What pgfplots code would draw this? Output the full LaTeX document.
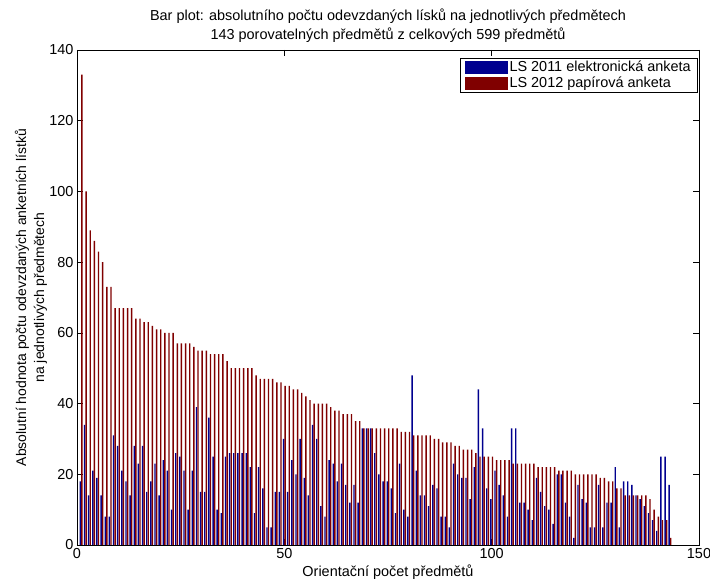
\documentclass[border=0pt]{standalone}
\usepackage{fontspec}
\setmainfont{Liberation Sans}
\usepackage{pgfplots}
\usepackage{pgfplotstable}
\pgfplotsset{compat=1.18}
\definecolor{mblue}{RGB}{0,0,143}
\definecolor{mred}{RGB}{128,0,0}

% g = predmet, b = LS 2011 (elektronicka), r = LS 2012 (papirova)
\pgfplotstableread{
g b r
1 18 133
2 34 100
3 14 89
4 21 86
5 19 83
6 14 80
7 8 73
8 8 73
9 31 67
10 28 67
11 21 67
12 18 67
13 14 67
14 28 64
15 23 64
16 28 63
17 15 63
18 18 62
19 23 61
20 14 61
21 24 60
22 21 60
23 10 60
24 26 57
25 25 57
26 21 57
27 10 57
28 21 56
29 39 55
30 15 55
31 15 55
32 36 54
33 25 54
34 10 54
35 9 54
36 25 52
37 26 50
38 26 50
39 26 50
40 26 50
41 26 50
42 22 50
43 9 48
44 22 47
45 16 47
46 5 47
47 5 47
48 15 46
49 15 46
50 30 45
51 15 45
52 24 44
53 20 44
54 30 43
55 19 42
56 14 41
57 34 40
58 30 40
59 11 40
60 8 40
61 24 39
62 23 38
63 18 38
64 23 37
65 17 37
66 12 37
67 17 35
68 12 35
69 33 33
70 33 33
71 33 33
72 26 33
73 20 33
74 18 33
75 18 33
76 16 33
77 9 33
78 23 32
79 10 32
80 8 32
81 48 31
82 21 31
83 14 31
84 14 31
85 11 31
86 17 30
87 16 30
88 8 29
89 8 29
90 5 29
91 23 28
92 20 28
93 19 27
94 19 27
95 13 27
96 22 26
97 44 25
98 33 25
99 16 25
100 13 25
101 21 24
102 17 24
103 14 24
104 8 24
105 33 23
106 33 23
107 12 23
108 12 23
109 10 23
110 7 23
111 19 22
112 15 22
113 11 22
114 10 22
115 6 22
116 20 21
117 20 21
118 12 21
119 8 21
120 2 20
121 17 20
122 13 20
123 12 20
124 5 20
125 5 20
126 17 19
127 5 19
128 12 18
129 12 18
130 22 16
131 5 16
132 18 14
133 18 14
134 17 14
135 14 14
136 13 14
137 11 14
138 9 13
139 7 10
140 4 8
141 25 7
142 25 7
143 17 2
}\data

\begin{document}
\begin{tikzpicture}
\useasboundingbox (-77bp,-35bp) rectangle (633bp,545bp);
\begin{axis}[
  at={(0,0)}, anchor=south west,
  width=622bp, height=495bp, scale only axis,
  xmin=0, xmax=150, ymin=0, ymax=140,
  xtick={0,50,100,150}, ytick={0,20,...,140},
  tick align=inside, major tick length=6bp,
  axis line style={line width=0.5bp},
  every tick/.style={black, line width=0.5bp},
  /pgf/number format/assume math mode=true,
  tick label style={font=\fontsize{14.5}{17}\selectfont},
  title={Bar plot: absolutního počtu odevzdaných lísků na jednotlivých předmětech\\143 porovatelných předmětů z celkových 599 předmětů},
  title style={at={(axis description cs:0.5,1)}, anchor=south, yshift=1bp,
    inner sep=0pt, align=center, font=\fontsize{14.5}{19}\selectfont},
  xlabel={Orientační počet předmětů},
  x label style={at={(axis description cs:0.5,0)}, anchor=north, yshift=-20bp,
    inner sep=0pt, font=\fontsize{14.5}{17}\selectfont},
  ylabel={Absolutní hodnota počtu odevzdaných anketních lístků\\na jednotlivých předmětech},
  y label style={at={(axis description cs:-0.074,0.5)}, anchor=center,
    inner sep=0pt, align=center, font=\fontsize{14}{18}\selectfont},
  legend cell align=left,
  legend style={at={(0.9968,0.984)}, anchor=north east, draw=black,
    line width=0.5bp, font=\fontsize{14.5}{17}\selectfont,
    inner xsep=4bp, inner ysep=1bp, row sep=0bp},
]
\addplot[ybar, bar width=0.34, bar shift=-0.19, fill=mblue, draw=none,
  legend image code/.code={\fill[mblue] (0bp,-6.5bp) rectangle (43bp,6.5bp);}]
  table[x=g, y=b] {\data};
\addplot[ybar, bar width=0.34, bar shift=0.19, fill=mred, draw=none,
  legend image code/.code={\fill[mred] (0bp,-6.5bp) rectangle (43bp,6.5bp);}]
  table[x=g, y=r] {\data};
\legend{LS 2011 elektronická anketa, LS 2012 papírová anketa}
\end{axis}
\end{tikzpicture}
\end{document}
